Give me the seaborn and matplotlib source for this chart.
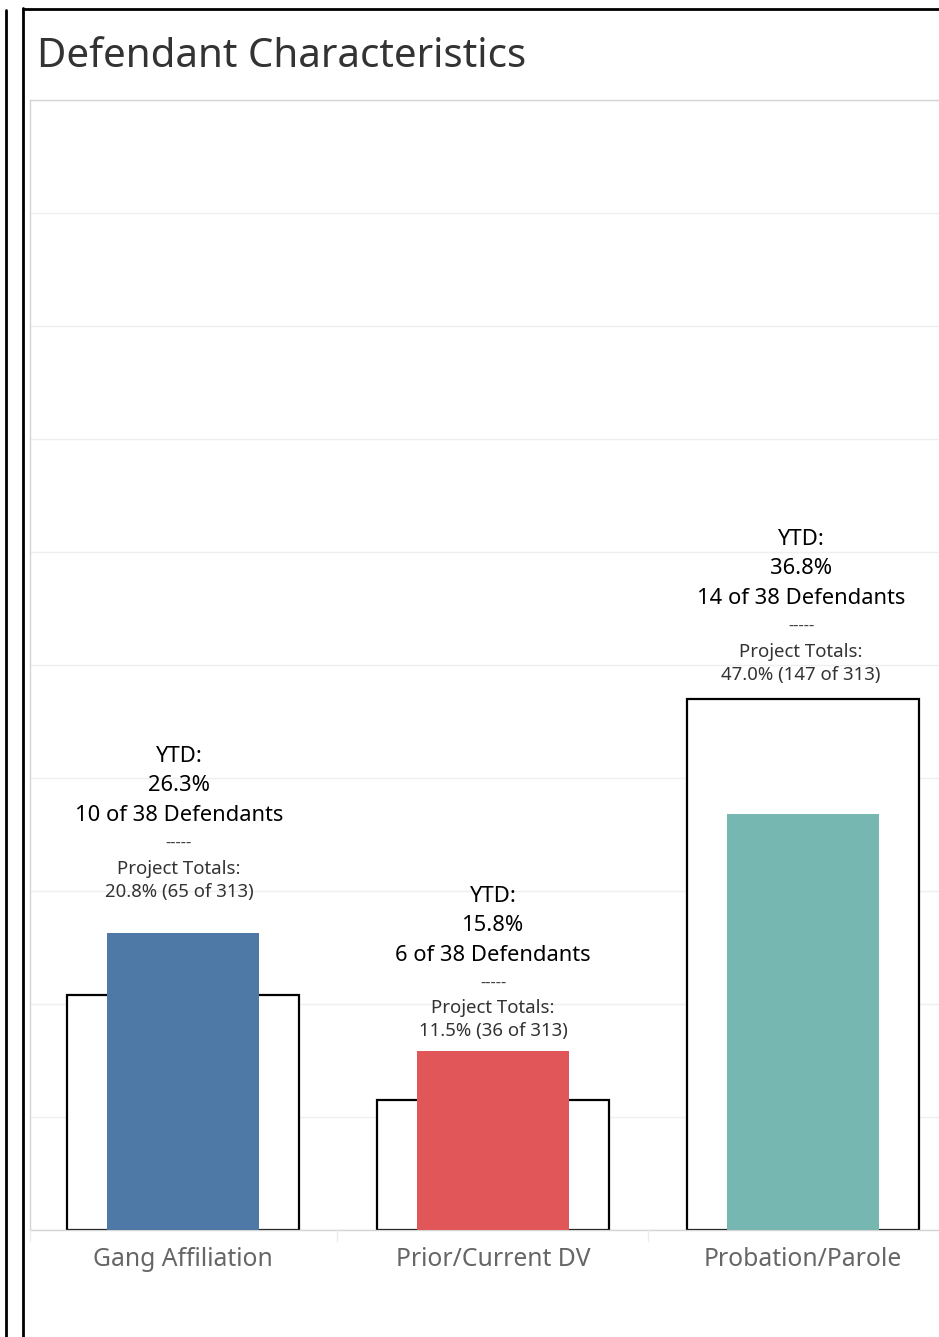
import numpy as np
import pandas as pd
import matplotlib
matplotlib.use("Agg")
import matplotlib.pyplot as plt
from matplotlib.lines import Line2D
import seaborn as sns

# data
categories = ["Gang Affiliation", "Prior/Current DV", "Probation/Parole"]
ytd_pct = [26.3, 15.8, 36.8]
ytd_count = [10, 6, 14]
ytd_total = [38, 38, 38]
project_pct = [20.8, 11.5, 47.0]
project_count = [65, 36, 147]
project_total = [313, 313, 313]
bar_colors = ["#4E79A7", "#E15759", "#76B7B2"]

df = pd.DataFrame({
    "category": categories,
    "ytd": ytd_pct,
    "project": project_pct,
})

sns.set_theme(style="white")
plt.rcParams["font.family"] = ["Noto Sans", "DejaVu Sans"]

W, H = 939, 1337
fig = plt.figure(figsize=(W / 100, H / 100), dpi=100)
ax = fig.add_axes([30 / W, 1 - 1230 / H, 1 - 30 / W, (1230 - 100) / H])

# project totals: hollow outline bars behind
sns.barplot(data=df, x="category", y="project", ax=ax, color="white",
            edgecolor="black", linewidth=1.6, width=0.748, saturation=1, zorder=2)
# ytd: coloured bars on top
sns.barplot(data=df, x="category", y="ytd", hue="category", palette=bar_colors,
            ax=ax, width=0.49, legend=False, linewidth=0, saturation=1, zorder=3)

ax.set_xlim((30 - 183) / 310, (939 - 183) / 310)
ax.set_ylim(0, 100)
ax.set_yticks(np.arange(0, 101, 10))
ax.set_yticklabels([])
ax.tick_params(axis="y", length=0)
ax.grid(axis="y", color="#efefef", linewidth=1, zorder=0)
ax.set_axisbelow(True)
ax.set_xlabel("")
ax.set_ylabel("")
ax.set_xticks(range(len(categories)))
ax.set_xticklabels(categories, color="#666666", fontsize=17.8)
ax.tick_params(axis="x", length=0, pad=12)

for s in ["left", "top", "bottom"]:
    ax.spines[s].set_color("#d4d4d4")
    ax.spines[s].set_linewidth(1)
ax.spines["right"].set_visible(False)

# labels above bars
label_gap_px = [41, 20, 24]
label_shift_px = [-4, 0, -2]
for i in range(len(categories)):
    anchor = max(ytd_pct[i], project_pct[i])
    base = label_gap_px[i]
    lines = [
        ("YTD:", 135, 15.8, "#000000"),
        (f"{ytd_pct[i]:.1f}%", 106, 15.8, "#000000"),
        (f"{ytd_count[i]} of {ytd_total[i]} Defendants", 76, 15.8, "#000000"),
        ("-----", 49, 12, "#444444"),
        ("Project Totals:", 23, 13.4, "#333333"),
        (f"{project_pct[i]:.1f}% ({project_count[i]} of {project_total[i]})", 0, 13.4, "#333333"),
    ]
    for txt, off, fs, col in lines:
        ax.annotate(txt, xy=(i, anchor), xytext=(label_shift_px[i], base + off),
                    textcoords="offset pixels", ha="center", va="center",
                    fontsize=fs, color=col, zorder=5)

# faint header dividers below the axis
for xp in [30, 337, 648]:
    fig.add_artist(Line2D([xp / W, xp / W], [1 - 1230 / H, 1 - 1241 / H],
                          color="#ececec", linewidth=1))

# title
fig.text(37 / W, 1 - 57 / H, "Defendant Characteristics", fontsize=29,
         color="#333333", ha="left", va="center")

# dashboard frame lines
fig.add_artist(Line2D([6 / W, 6 / W], [0, 1 - 10 / H], color="black", linewidth=2))
fig.add_artist(Line2D([23 / W, 23 / W], [0, 1 - 8 / H], color="black", linewidth=2))
fig.add_artist(Line2D([23 / W, 1], [1 - 9 / H, 1 - 9 / H], color="black", linewidth=2))

fig.savefig("out.png", dpi=100)
